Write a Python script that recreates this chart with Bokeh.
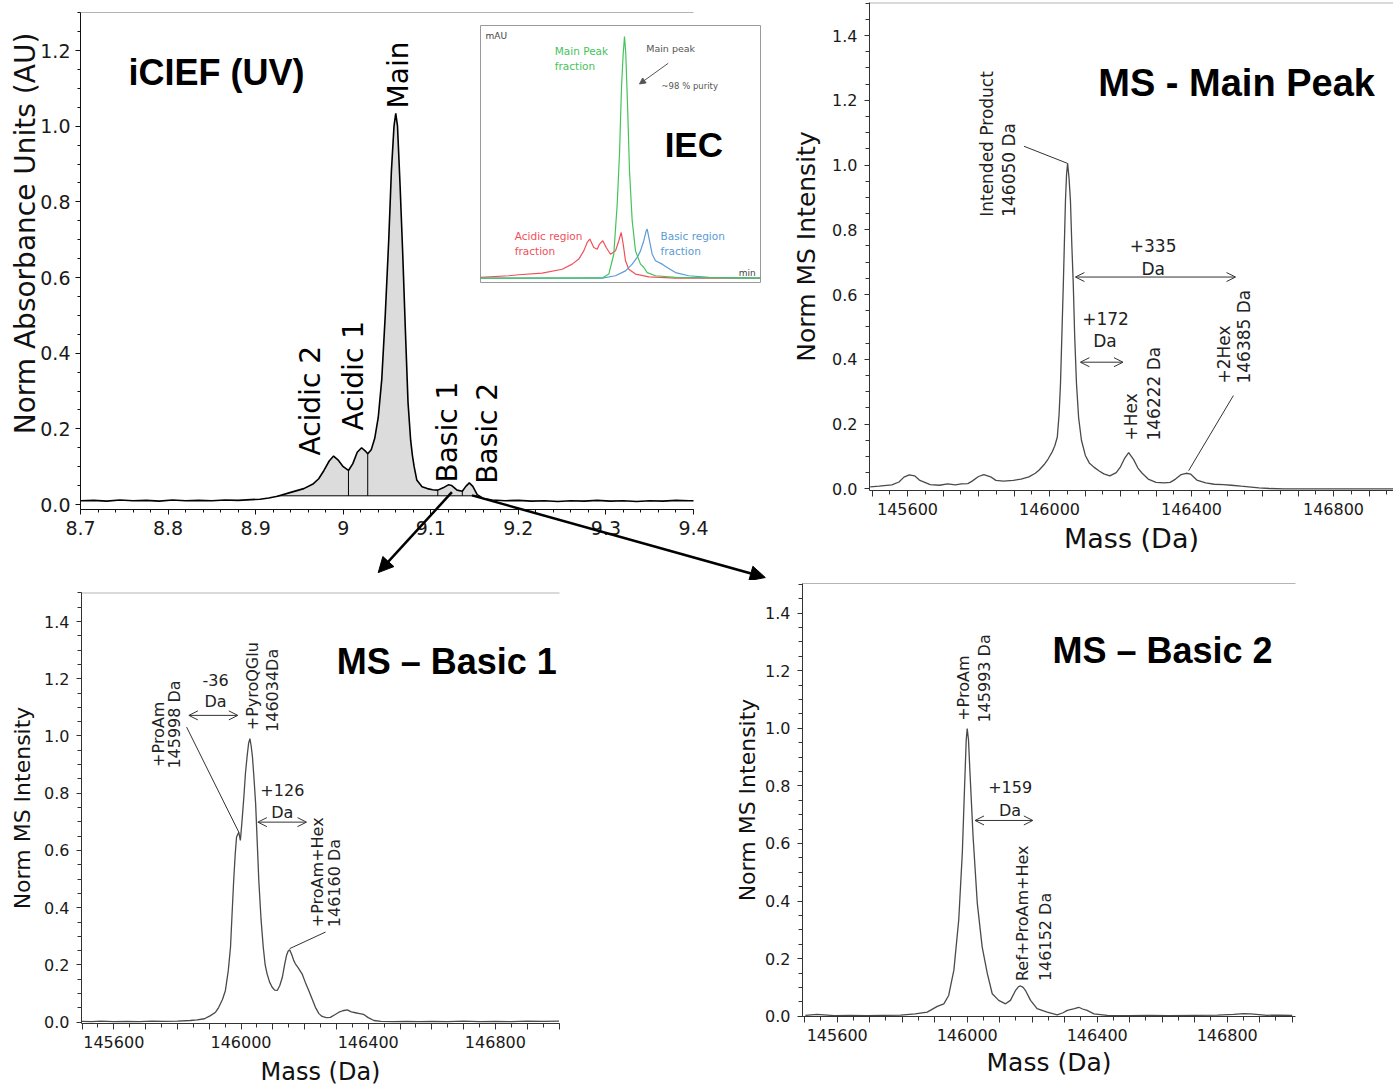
import numpy as np
from bokeh.plotting import figure
from bokeh.layouts import column, row
from bokeh.models import (Range1d, FixedTicker, CustomJSTickFormatter, Arrow,
                          NormalHead, OpenHead)
from bokeh.embed import file_html
from bokeh.resources import INLINE
from bokeh.core.properties import value

# ---------------- DATA ----------------
# iCIEF (UV) trace: time (min) vs normalised absorbance
ICIEF_TIME = [8.700, 8.715, 8.730, 8.745, 8.760, 8.775, 8.790, 8.805, 8.820, 8.835,
              8.850, 8.865, 8.880, 8.895, 8.905, 8.915, 8.925, 8.940, 8.955, 8.966,
              8.972, 8.978, 8.984, 8.989, 8.994, 9.000, 9.006, 9.011, 9.016, 9.021,
              9.025, 9.028, 9.032, 9.036, 9.040, 9.044, 9.048, 9.052, 9.055, 9.058,
              9.060, 9.062, 9.065, 9.068, 9.071, 9.074, 9.077, 9.079, 9.081, 9.084,
              9.090, 9.096, 9.102, 9.108, 9.114, 9.120, 9.124, 9.130, 9.136, 9.140,
              9.144, 9.148, 9.153, 9.160, 9.170, 9.185, 9.200, 9.215, 9.230, 9.245,
              9.260, 9.275, 9.290, 9.305, 9.320, 9.335, 9.350, 9.365, 9.380, 9.395,
              9.400]
ICIEF_ABS = [0.010, 0.011, 0.009, 0.012, 0.010, 0.011, 0.009, 0.012, 0.010, 0.011,
             0.010, 0.012, 0.011, 0.013, 0.014, 0.017, 0.022, 0.032, 0.042, 0.055,
             0.068, 0.090, 0.115, 0.128, 0.118, 0.100, 0.090, 0.108, 0.138, 0.150,
             0.142, 0.134, 0.145, 0.175, 0.230, 0.330, 0.500, 0.700, 0.880, 1.000,
             1.034, 1.000, 0.840, 0.660, 0.460, 0.270, 0.170, 0.130, 0.100, 0.065,
             0.047, 0.042, 0.039, 0.038, 0.044, 0.052, 0.050, 0.038, 0.035, 0.048,
             0.057, 0.048, 0.026, 0.016, 0.012, 0.010, 0.011, 0.009, 0.010, 0.008,
             0.010, 0.009, 0.011, 0.009, 0.010, 0.008, 0.010, 0.009, 0.011, 0.010,
             0.010]
ICIEF_FILL_RANGE = [8.925, 9.153]
ICIEF_FILL_BASE = 0.023
ICIEF_DIVIDERS = [9.006, 9.028, 9.108, 9.136]
ICIEF_X_TICKS = [8.7, 8.8, 8.9, 9.0, 9.1, 9.2, 9.3, 9.4]
ICIEF_Y_TICKS = [0.0, 0.2, 0.4, 0.6, 0.8, 1.0, 1.2]

# IEC inset chromatogram (arbitrary min / mAU units)
IEC_MAIN_T = [0, 12.17, 12.83, 13.33, 13.67, 13.9, 14.1, 14.27, 14.4, 14.53, 14.7, 14.9,
              15.17, 15.5, 16.0, 16.33, 16.67, 17.5, 19.5, 28]
IEC_MAIN_Y = [0, 0.1, 1.7, 9.9, 30.7, 51.4, 79.0, 92.8, 100, 92.8, 72.1, 44.5,
              23.8, 11.3, 5.8, 4.4, 2.3, 1.0, 0.3, 0]
IEC_ACID_T = [0, 2.83, 3.83, 6.17, 8.17, 9.17, 9.83, 10.33, 10.67, 10.93, 11.33, 11.67,
              11.9, 12.23, 12.57, 13.0, 13.5, 13.83, 14.07, 14.27, 14.5, 14.83, 15.5,
              16.83, 19.5, 28]
IEC_ACID_Y = [0.3, 1.0, 1.4, 2.1, 3.7, 5.8, 7.9, 11.3, 14.8, 16.2, 12.7, 12.0,
              14.1, 15.5, 12.7, 9.9, 11.3, 15.5, 18.9, 14.1, 7.2, 3.7, 1.7,
              0.55, 0, 0]
IEC_BASIC_T = [0, 11.17, 12.17, 13.5, 14.5, 15.17, 15.67, 16.0, 16.33, 16.57, 16.67,
               16.9, 17.17, 17.5, 18.17, 18.67, 19.5, 20.83, 22.83, 28]
IEC_BASIC_Y = [0, 0, 0, 1.0, 3.0, 5.8, 8.6, 11.3, 15.5, 19.6, 20.3,
               15.5, 9.9, 7.2, 5.8, 4.4, 2.3, 1.0, 0.3, 0]

# MS - Main Peak
MS_MAIN_MASS = [145495, 145520, 145556, 145576, 145590, 145605, 145620, 145635, 145664,
                145690, 145713, 145735, 145752, 145770, 145781, 145800, 145815, 145834,
                145849, 145870, 145898, 145920, 145942, 145960, 145971, 145985, 145996,
                146008, 146015, 146022, 146027, 146031, 146035, 146039, 146045, 146048,
                146051, 146055, 146059, 146063, 146067, 146071, 146076, 146082, 146090,
                146101, 146112, 146125, 146140, 146153, 146170, 146188, 146200, 146212,
                146223, 146237, 146249, 146261, 146278, 146300, 146322, 146340, 146355,
                146371, 146385, 146398, 146415, 146440, 146464, 146490, 146512, 146540,
                146561, 146590, 146620, 146660, 146968]
MS_MAIN_INT = [0.006, 0.008, 0.012, 0.021, 0.036, 0.043, 0.040, 0.026, 0.013,
               0.011, 0.015, 0.012, 0.015, 0.016, 0.023, 0.038, 0.044, 0.037,
               0.026, 0.024, 0.026, 0.030, 0.037, 0.048, 0.058, 0.075, 0.092,
               0.115, 0.133, 0.160, 0.230, 0.325, 0.480, 0.634, 0.891, 0.970,
               1.005, 0.960, 0.890, 0.750, 0.630, 0.470, 0.325, 0.220, 0.150,
               0.103, 0.080, 0.067, 0.055, 0.046, 0.040, 0.050, 0.068, 0.095,
               0.112, 0.090, 0.064, 0.048, 0.030, 0.020, 0.018, 0.020, 0.030,
               0.044, 0.048, 0.045, 0.027, 0.018, 0.014, 0.013, 0.011, 0.008,
               0.006, 0.003, 0.001, 0.0, 0.0]

# MS - Basic 1
MS_B1_MASS = [145500, 145530, 145560, 145600, 145640, 145680, 145720, 145757, 145800,
              145840, 145862, 145885, 145904, 145920, 145930, 145942, 145951, 145960,
              145967, 145972, 145977, 145982, 145986, 145993, 145998, 146003, 146009,
              146014, 146019, 146024, 146028, 146032, 146036, 146041, 146046, 146051,
              146056, 146063, 146070, 146076, 146082, 146090, 146098, 146106, 146114,
              146122, 146130, 146137, 146143, 146148, 146153, 146160, 146166, 146171,
              146180, 146192, 146202, 146213, 146224, 146234, 146245, 146255, 146268,
              146281, 146295, 146308, 146320, 146334, 146347, 146360, 146373, 146386,
              146400, 146418, 146440, 146480, 146520, 146560, 146600, 146650, 146700,
              146750, 146800, 146850, 146900, 146950, 147000]
MS_B1_INT = [0.003, 0.002, 0.004, 0.002, 0.003, 0.002, 0.004, 0.003, 0.004,
             0.006, 0.008, 0.012, 0.023, 0.035, 0.052, 0.080, 0.111, 0.180,
             0.262, 0.380, 0.495, 0.590, 0.647, 0.664, 0.635, 0.700, 0.787,
             0.870, 0.927, 0.975, 0.991, 0.965, 0.927, 0.850, 0.764, 0.630,
             0.495, 0.360, 0.262, 0.200, 0.169, 0.140, 0.122, 0.112, 0.111,
             0.128, 0.157, 0.200, 0.233, 0.248, 0.253, 0.235, 0.215, 0.204,
             0.190, 0.169, 0.140, 0.111, 0.080, 0.052, 0.030, 0.020, 0.016,
             0.017, 0.026, 0.035, 0.040, 0.043, 0.036, 0.033, 0.030, 0.027,
             0.016, 0.006, 0.003, 0.002, 0.003, 0.002, 0.003, 0.002, 0.004,
             0.002, 0.003, 0.002, 0.004, 0.003, 0.004]

# MS - Basic 2
MS_B2_MASS = [145502, 145538, 145570, 145590, 145640, 145692, 145740, 145795, 145840,
              145877, 145908, 145928, 145943, 145959, 145974, 145985, 145992, 145997,
              146000, 146004, 146008, 146018, 146031, 146046, 146062, 146077, 146097,
              146118, 146133, 146149, 146158, 146164, 146172, 146179, 146195, 146215,
              146246, 146277, 146295, 146308, 146330, 146343, 146355, 146369, 146390,
              146431, 146500, 146560, 146620, 146700, 146770, 146820, 146850, 146872,
              146923, 146960, 147000]
MS_B2_INT = [0.003, 0.006, 0.004, 0.002, 0.003, 0.002, 0.003, 0.004, 0.008,
             0.014, 0.034, 0.043, 0.072, 0.160, 0.335, 0.568, 0.800, 0.960,
             0.999, 0.960, 0.859, 0.626, 0.393, 0.241, 0.148, 0.078, 0.055,
             0.043, 0.055, 0.090, 0.103, 0.105, 0.100, 0.090, 0.055, 0.026,
             0.014, 0.005, 0.012, 0.020, 0.026, 0.031, 0.025, 0.020, 0.008,
             0.003, 0.002, 0.003, 0.002, 0.003, 0.004, 0.006, 0.009, 0.008,
             0.003, 0.004, 0.003]

MS_MASS_MAJOR = list(range(145500, 147001, 100))
MS_MASS_MINOR = list(range(145500, 147001, 50))
MS_INT_TICKS = [0.0, 0.2, 0.4, 0.6, 0.8, 1.0, 1.2, 1.4]

# ---------------- STYLE / HELPERS ----------------
FONT = "DejaVu Sans"
BOLD_FONT = "Liberation Sans"
AXIS_COL = "#333333"
TXT_COL = "#222222"
TRACE_COL = "#4a4a4a"
BORDER_COL = "#b4b4b4"
MASS_FMT = "const t = Math.round(tick); return (t % 400 === 0) ? t.toString() : '';"
INT_FMT = "return tick.toFixed(1);"


def cal(d_a, p_a, d_b, p_b):
    """linear page-pixel -> data mapping through two calibration points"""
    s = (d_b - d_a) / (p_b - p_a)
    return lambda px: d_a + (px - p_a) * s


def canvas_fig(box, fx, fy):
    x0, y0, x1, y1 = box
    p = figure(width=x1 - x0, height=y1 - y0,
               x_range=Range1d(fx(x0), fx(x1)), y_range=Range1d(fy(y1), fy(y0)),
               min_border=0, min_border_left=0, min_border_right=0,
               min_border_top=0, min_border_bottom=0,
               output_backend="svg", toolbar_location=None)
    p.outline_line_color = None
    p.xgrid.visible = False
    p.ygrid.visible = False
    p.background_fill_color = "white"
    p.border_fill_color = "white"
    return p


def style_axis(ax, loc, bounds, major, minor, code, tick_fs, label, label_fs,
               tick_standoff, label_standoff, color=AXIS_COL, tick_out=5, minor_out=3):
    ax.fixed_location = loc
    ax.bounds = bounds
    ax.ticker = FixedTicker(ticks=major, minor_ticks=minor)
    ax.formatter = CustomJSTickFormatter(code=code)
    ax.axis_line_color = color
    ax.major_tick_line_color = color
    ax.minor_tick_line_color = color
    ax.major_tick_in = 0
    ax.major_tick_out = tick_out
    ax.minor_tick_in = 0
    ax.minor_tick_out = minor_out
    ax.major_label_text_font = FONT
    ax.major_label_text_font_size = tick_fs
    ax.major_label_text_color = "#1a1a1a"
    ax.major_label_standoff = tick_standoff
    if label:
        ax.axis_label = label
        ax.axis_label_text_font = FONT
        ax.axis_label_text_font_size = label_fs
        ax.axis_label_text_font_style = "normal"
        ax.axis_label_text_color = "#111111"
        ax.axis_label_standoff = label_standoff


def put_text(p, x, y, s, size, color=TXT_COL, font=FONT, style="normal", angle=0.0,
             align="center", baseline="middle", rn=None):
    kw = {}
    if rn:
        kw = dict(x_range_name=rn, y_range_name=rn)
    p.text(x=[x], y=[y], text=[s], text_font=value(font), text_font_size=size,
           text_font_style=style, text_color=color, angle=angle,
           text_align=align, text_baseline=baseline, **kw)


def vtext(p, x, y, s, size, color=TXT_COL):
    put_text(p, x, y, s, size, color=color, angle=np.pi / 2, align="left")


def double_arrow(p, x0, x1, y, color="#333333"):
    p.add_layout(Arrow(x_start=x0, y_start=y, x_end=x1, y_end=y,
                       line_color=color, line_width=1,
                       start=OpenHead(size=9, line_color=color, line_width=1),
                       end=OpenHead(size=9, line_color=color, line_width=1)))


def leader(p, x0, y0, x1, y1, color="#333333"):
    p.line([x0, x1], [y0, y1], line_color=color, line_width=1)


# ---------------- TOP-LEFT: iCIEF ----------------
TL_BOX = (0, 0, 780, 580)
fx = cal(8.7, 80, 9.4, 693)
fy = cal(0.0, 504, 1.2, 50)
tl = canvas_fig(TL_BOX, fx, fy)
style_axis(tl.xaxis[0], fy(509), (8.7, 9.4), ICIEF_X_TICKS,
           [round(8.7 + 0.02 * i, 2) for i in range(36)],
           "return (Math.abs(tick - Math.round(tick)) < 1e-9) ? Math.round(tick).toString() : tick.toFixed(1);",
           "19px", None, None, 6, 0, color="#111111")
style_axis(tl.yaxis[0], 8.7, (fy(509), fy(12)), ICIEF_Y_TICKS,
           [round(0.05 * i, 2) for i in range(27)],
           INT_FMT, "19px", None, None, 5, 2, color="#111111")
put_text(tl, fx(25), fy(233), "Norm Absorbance Units (AU)", "28px", color="#111111",
         angle=np.pi / 2)

tx = np.array(ICIEF_TIME)
ty = np.array(ICIEF_ABS)
sel = (tx >= ICIEF_FILL_RANGE[0]) & (tx <= ICIEF_FILL_RANGE[1])
tl.varea(x=tx[sel], y1=np.full(sel.sum(), ICIEF_FILL_BASE), y2=ty[sel], fill_color="#dcdcdc")
tl.line(ICIEF_FILL_RANGE, [ICIEF_FILL_BASE, ICIEF_FILL_BASE], line_color="black", line_width=1)
for xd in ICIEF_DIVIDERS:
    tl.line([xd, xd], [ICIEF_FILL_BASE, float(np.interp(xd, tx, ty))],
            line_color="black", line_width=1)
tl.line(tx, ty, line_color="black", line_width=1.6)
tl.line([8.7, 9.4], [fy(12), fy(12)], line_color=BORDER_COL, line_width=1)

put_text(tl, 8.7548, 1.142, "iCIEF (UV)", "36px", color="black", font=BOLD_FONT,
         style="bold", align="left")
for lab, lx, ly in [("Main", 9.063, 1.047), ("Acidic 2", 8.963, 0.1295),
                    ("Acidic 1", 9.0116, 0.1956), ("Basic 1", 9.1186, 0.058),
                    ("Basic 2", 9.1643, 0.055)]:
    vtext(tl, lx, ly, lab, "28px", color="black")

# inset IEC chromatogram in its own ranges (box 480..760 x 25..282 px)
IEC_XLIM = (0, 28)
IEC_YLIM = (-1.8, 104.6)
ix = cal(IEC_XLIM[0], 480, IEC_XLIM[1], 760)
iy = cal(IEC_YLIM[0], 282, IEC_YLIM[1], 25)
tl.extra_x_ranges = {"iec": Range1d(ix(TL_BOX[0]), ix(TL_BOX[2]))}
tl.extra_y_ranges = {"iec": Range1d(iy(TL_BOX[3]), iy(TL_BOX[1]))}
tl.quad(left=IEC_XLIM[0], right=IEC_XLIM[1], bottom=IEC_YLIM[0], top=IEC_YLIM[1],
        fill_color="white", line_color="#9a9a9a", line_width=1,
        x_range_name="iec", y_range_name="iec")
tl.line(IEC_ACID_T, IEC_ACID_Y, line_color="#f0505a", line_width=1.2, x_range_name="iec", y_range_name="iec")
tl.line(IEC_BASIC_T, IEC_BASIC_Y, line_color="#5b9bd5", line_width=1.2, x_range_name="iec", y_range_name="iec")
tl.line(IEC_MAIN_T, IEC_MAIN_Y, line_color="#45c35a", line_width=1.2, x_range_name="iec", y_range_name="iec")
put_text(tl, 0.5, 100.4, "mAU", "9px", color="#444444", align="left", rn="iec")
put_text(tl, 26.67, 2.2, "min", "9px", color="#444444", rn="iec")
put_text(tl, 7.43, 94.2, "Main Peak", "10.5px", color="#45c35a", align="left", rn="iec")
put_text(tl, 7.43, 88.0, "fraction", "10.5px", color="#45c35a", align="left", rn="iec")
put_text(tl, 16.57, 94.9, "Main peak", "9.5px", color="#555555", align="left", rn="iec")
put_text(tl, 18.1, 79.7, "~98 % purity", "8.5px", color="#555555", align="left", rn="iec")
put_text(tl, 21.33, 55.5, "IEC", "35px", color="black", font=BOLD_FONT, style="bold", rn="iec")
put_text(tl, 3.43, 17.5, "Acidic region", "10.5px", color="#f0505a", align="left", rn="iec")
put_text(tl, 3.43, 11.3, "fraction", "10.5px", color="#f0505a", align="left", rn="iec")
put_text(tl, 18.0, 17.5, "Basic region", "10.5px", color="#5b9bd5", align="left", rn="iec")
put_text(tl, 18.0, 11.3, "fraction", "10.5px", color="#5b9bd5", align="left", rn="iec")
tl.add_layout(Arrow(x_start=18.77, y_start=88.95, x_end=15.9, y_end=80.4,
                    line_color="#555555", line_width=1,
                    end=NormalHead(size=6, fill_color="#555555", line_color="#555555"),
                    x_range_name="iec", y_range_name="iec"))

# arrows from the Basic peaks to the MS panels
for x0, y0, x1, y1 in [(9.1241, 0.0325, 9.040, -0.180), (9.1471, 0.024, 9.482, -0.193)]:
    tl.add_layout(Arrow(x_start=x0, y_start=y0, x_end=x1, y_end=y1,
                        line_color="black", line_width=2.5,
                        end=NormalHead(size=15, fill_color="black", line_color="black")))

# ---------------- TOP-RIGHT: MS Main Peak ----------------
TR_BOX = (780, 0, 1393, 580)
mx = cal(145600, 907, 146000, 1049)
my = cal(0.0, 488.3, 1.4, 35)
tr = canvas_fig(TR_BOX, mx, my)
style_axis(tr.xaxis[0], my(490), (mx(869), mx(1393)), MS_MASS_MAJOR, MS_MASS_MINOR, MASS_FMT,
           "16px", "Mass (Da)", "27px", 6, 5, tick_out=6, minor_out=4)
style_axis(tr.yaxis[0], mx(869), (my(490), my(2)), MS_INT_TICKS,
           [round(0.05 * i, 2) for i in range(31)], INT_FMT,
           "16px", "Norm MS Intensity", "25px", 7, 8, tick_out=5, minor_out=4)
tr.line([mx(869), mx(1393)], [my(2.5), my(2.5)], line_color=BORDER_COL, line_width=1)
tr.line(MS_MAIN_MASS, MS_MAIN_INT, line_color=TRACE_COL, line_width=1.3)
put_text(tr, 146527, 1.253, "MS - Main Peak", "38px", color="black", font=BOLD_FONT, style="bold")
vtext(tr, 145824, 0.840, "Intended Product", "17px")
vtext(tr, 145885, 0.840, "146050 Da", "17px")
leader(tr, 145928, 1.058, 146051, 1.005)
put_text(tr, 146292, 0.752, "+335", "17px")
put_text(tr, 146292, 0.680, "Da", "17px")
double_arrow(tr, 146073, 146524, 0.654)
put_text(tr, 146158, 0.525, "+172", "17px")
put_text(tr, 146156, 0.458, "Da", "17px")
double_arrow(tr, 146087, 146207, 0.391)
vtext(tr, 146230, 0.149, "+Hex", "17px")
vtext(tr, 146294, 0.149, "146222 Da", "17px")
vtext(tr, 146491, 0.325, "+2Hex", "17px")
vtext(tr, 146547, 0.325, "146385 Da", "17px")
leader(tr, 146518, 0.288, 146392, 0.056)

# ---------------- BOTTOM-LEFT: MS Basic 1 ----------------
BL_BOX = (0, 580, 700, 1085)
bx = cal(145600, 113.3, 146000, 240.5)
by = cal(0.0, 1021.7, 1.4, 621)
bl = canvas_fig(BL_BOX, bx, by)
style_axis(bl.xaxis[0], by(1023), (bx(81), bx(559)), MS_MASS_MAJOR, MS_MASS_MINOR, MASS_FMT,
           "16px", "Mass (Da)", "24px", 6, 7, tick_out=6, minor_out=4)
style_axis(bl.yaxis[0], bx(81), (by(1023), by(592)), MS_INT_TICKS,
           [round(0.05 * i, 2) for i in range(31)], INT_FMT,
           "16px", "Norm MS Intensity", "22px", 7, 6, tick_out=5, minor_out=4)
bl.line([bx(81), bx(559)], [by(592.5), by(592.5)], line_color=BORDER_COL, line_width=1)
bl.line(MS_B1_MASS, MS_B1_INT, line_color=TRACE_COL, line_width=1.3)
put_text(bl, 146647, 1.261, "MS \u2013 Basic 1", "36px", color="black", font=BOLD_FONT, style="bold")
vtext(bl, 145739, 0.892, "+ProAm", "16px")
vtext(bl, 145792, 0.886, "145998 Da", "16px")
leader(bl, 145829, 1.031, 145993, 0.664)
put_text(bl, 145920, 1.197, "-36", "16px")
put_text(bl, 145920, 1.119, "Da", "16px")
double_arrow(bl, 145836, 145990, 1.072)
vtext(bl, 146037, 1.020, "+PyroQGlu", "16px")
vtext(bl, 146098, 1.014, "146034Da", "16px")
put_text(bl, 146130, 0.810, "+126", "16px")
put_text(bl, 146130, 0.734, "Da", "16px")
double_arrow(bl, 146053, 146206, 0.699)
vtext(bl, 146240, 0.332, "+ProAm+Hex", "16px")
vtext(bl, 146295, 0.332, "146160 Da", "16px")
leader(bl, 146153, 0.257, 146266, 0.315)

# ---------------- BOTTOM-RIGHT: MS Basic 2 ----------------
BR_BOX = (700, 580, 1393, 1085)
rx = cal(145600, 836.7, 146000, 966.7)
ry = cal(0.0, 1015.7, 1.4, 612.7)
br = canvas_fig(BR_BOX, rx, ry)
style_axis(br.xaxis[0], ry(1016), (rx(802), rx(1295)), MS_MASS_MAJOR, MS_MASS_MINOR, MASS_FMT,
           "16px", "Mass (Da)", "25px", 6, 4, tick_out=6, minor_out=4)
style_axis(br.yaxis[0], rx(802), (ry(1016), ry(582.5)), MS_INT_TICKS,
           [round(0.05 * i, 2) for i in range(31)], INT_FMT,
           "16px", "Norm MS Intensity", "22px", 7, 2, tick_out=5, minor_out=4)
br.line([rx(802), rx(1295)], [ry(583), ry(583)], line_color=BORDER_COL, line_width=1)
br.line(MS_B2_MASS, MS_B2_INT, line_color=TRACE_COL, line_width=1.3)
put_text(br, 146601, 1.271, "MS \u2013 Basic 2", "36px", color="black", font=BOLD_FONT, style="bold")
vtext(br, 145988, 1.026, "+ProAm", "16px")
vtext(br, 146052, 1.020, "145993 Da", "16px")
put_text(br, 146132, 0.797, "+159", "16px")
put_text(br, 146132, 0.715, "Da", "16px")
double_arrow(br, 146024, 146202, 0.680)
vtext(br, 146171, 0.122, "Ref+ProAm+Hex", "16px")
vtext(br, 146241, 0.122, "146152 Da", "16px")

page = column(row(tl, tr), row(bl, br))
open("out.html", "w").write(file_html(page, INLINE))
